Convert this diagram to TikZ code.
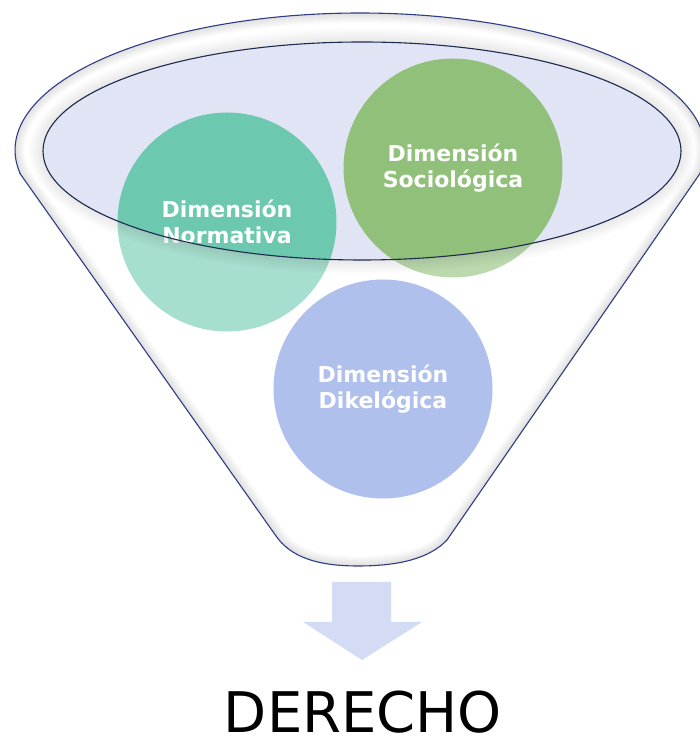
\documentclass[tikz,border=0pt]{standalone}
\usepackage{fontspec}
\setmainfont{DejaVu Sans}
\definecolor{normcol}{HTML}{6CC8AF}
\definecolor{sociocol}{HTML}{90C079}
\definecolor{dikecol}{HTML}{7A96E2}
\definecolor{mouthfill}{HTML}{E1E4F4}
\definecolor{mouthline}{HTML}{1E2A4E}
\definecolor{funnelline}{HTML}{2F3C84}
\definecolor{arrowcol}{HTML}{D4DBF5}
\def\funnelpath{(20.2,570.2) -- (276,208) .. controls (290,188) and (315,178) .. (358,178)
      .. controls (400,178) and (430,186) .. (447,204) -- (699.8,570.2)
      arc[start angle=-10,end angle=190,x radius=345,y radius=137] -- cycle}

\begin{document}
\begin{tikzpicture}
    [x=1pt,y=1pt,
     dim/.style={circle,minimum size=219pt,inner sep=0pt,text=white,align=center,
       font=\bfseries\fontsize{22}{26}\selectfont},
     glow/.style={black,opacity=.012}]
  \useasboundingbox (0,0) rectangle (700,744);
  % boca
  \fill[mouthfill] (362,593) ellipse [x radius=319,y radius=109];
  % dimensiones
  \node[dim,fill=normcol] (normativa) at (227,522) {Dimensión\\Normativa};
  \node[dim,fill=sociocol] (sociologica) at (453,576) {Dimensión\\Sociológica};
  \node[dim,fill=dikecol] (dikelogica) at (383,355) {Dimensión\\Dikelógica};
  % embudo
  \fill[white,fill opacity=.4,even odd rule] \funnelpath
    (362,593) ellipse [x radius=319,y radius=109];
  \begin{scope}
    \clip \funnelpath;
    \foreach \w in {2,4,...,20}
      \draw[glow,line width=\w pt] \funnelpath;
    \foreach \w in {2,4,...,14}
      \draw[glow,line width=\w pt] (362,593) ellipse [x radius=319+\w/2,y radius=109+\w/2];
  \end{scope}
  \draw[funnelline,line width=1.1pt] \funnelpath;
  \draw[mouthline,line width=1.1pt] (362,593) ellipse [x radius=319,y radius=109];
  % flecha
  \fill[arrowcol] (332,162) -- (391,162) -- (391,122) -- (422,122) -- (362,84)
    -- (303,122) -- (332,122) -- cycle;
  \node[font=\fontsize{56}{60}\selectfont,inner sep=0pt,anchor=base] (derecho) at (363,12) {DERECHO};
\end{tikzpicture}
\end{document}
